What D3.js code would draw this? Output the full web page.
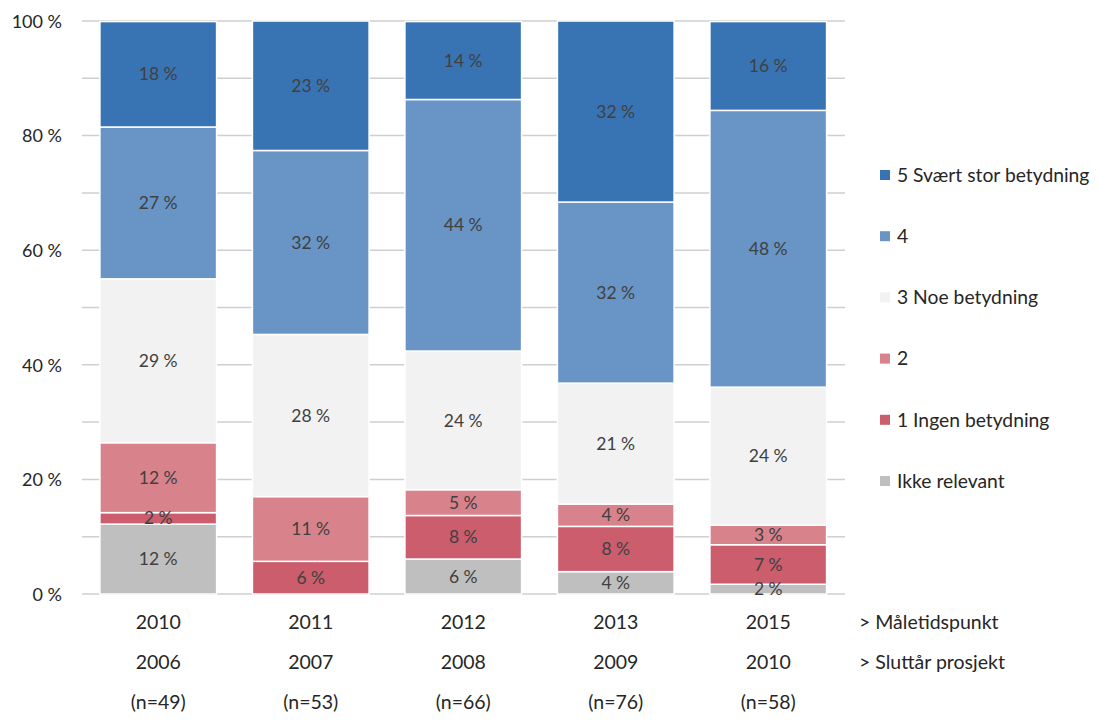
<!DOCTYPE html>
<html>
<head>
<meta charset="utf-8">
<script src="https://cdn.jsdelivr.net/npm/d3@7"></script>
<style>
  html, body { margin: 0; padding: 0; background: #fff; }
  svg { display: block; font-family: Lato, "Open Sans", sans-serif; }
</style>
</head>
<body>
<svg id="chart" width="1099" height="723"></svg>
<script>
// ---- data ----
const categories = ["2010", "2011", "2012", "2013", "2015"];
const sluttar = ["2006", "2007", "2008", "2009", "2010"];
const nLabels = ["(n=49)", "(n=53)", "(n=66)", "(n=76)", "(n=58)"];
const seriesNames = ["Ikke relevant", "1 Ingen betydning", "2", "3 Noe betydning", "4", "5 Svært stor betydning"];
const ikkeRelevant = [12.2, 0, 6.1, 3.9, 1.7];
const ingen = [2.0, 5.7, 7.6, 7.9, 6.9];
const to = [12.2, 11.3, 4.5, 3.9, 3.4];
const noe = [28.6, 28.3, 24.2, 21.1, 24.1];
const fire = [26.5, 32.1, 43.9, 31.6, 48.3];
const svaert = [18.4, 22.6, 13.6, 31.6, 15.5];
const yTicks = [0, 20, 40, 60, 80, 100];
const yGrid = [0, 10, 20, 30, 40, 50, 60, 70, 80, 90, 100];
const colors = ["#bfbfbf", "#cb5d6d", "#d8828c", "#f2f2f2", "#6894c6", "#3874b3"];

const seriesValues = [ikkeRelevant, ingen, to, noe, fire, svaert];
const rows = categories.map((c, i) => {
  const r = { cat: c };
  seriesNames.forEach((s, j) => r[s] = seriesValues[j][i]);
  return r;
});

const svg = d3.select("#chart");
const x = d3.scaleBand().domain(categories).range([82, 844.5]).paddingInner(0.235).paddingOuter(0.1175);
const y = d3.scaleLinear().domain([0, 100]).range([594, 21]);

// gridlines
svg.append("g").selectAll("line").data(yGrid).join("line")
  .attr("x1", 82).attr("x2", 845)
  .attr("y1", d => y(d)).attr("y2", d => y(d))
  .attr("stroke", "#cfcfcf").attr("stroke-width", 1.5);

// y axis labels
const yAxis = d3.axisLeft(y).tickValues(yTicks).tickSize(0).tickPadding(0).tickFormat(d => d + " %");
const ya = svg.append("g").attr("transform", "translate(62,0)").call(yAxis);
ya.select(".domain").remove();
ya.selectAll("text").attr("font-size", 18).attr("fill", "#262626").attr("font-family", "Lato, sans-serif").attr("dy", "0.35em");

// stacks
const stack = d3.stack().keys(seriesNames);
const stacked = stack(rows);

const g = svg.append("g");
stacked.forEach((layer, j) => {
  g.append("g").selectAll("rect").data(layer).join("rect")
    .attr("x", d => x(d.data.cat))
    .attr("width", x.bandwidth())
    .attr("y", d => y(d[1]))
    .attr("height", d => Math.max(0, y(d[0]) - y(d[1])))
    .attr("fill", colors[j])
    .attr("stroke", "#fff").attr("stroke-width", 1.5);
});
stacked.forEach((layer, j) => {
  g.append("g").selectAll("text").data(layer.filter(d => d[1] - d[0] > 0)).join("text")
    .attr("x", d => x(d.data.cat) + x.bandwidth() / 2)
    .attr("y", d => (y(d[0]) + y(d[1])) / 2)
    .attr("dy", "0.35em")
    .attr("text-anchor", "middle")
    .attr("font-size", 17.5)
    .attr("fill", "#404040")
    .text(d => Math.round(d[1] - d[0]) + " %");
});

// category labels
const catRows = [categories, sluttar, nLabels];
const catY = [622, 662, 702];
catRows.forEach((arr, k) => {
  svg.append("g").selectAll("text").data(arr).join("text")
    .attr("x", (d, i) => x(categories[i]) + x.bandwidth() / 2)
    .attr("y", catY[k]).attr("dy", "0.35em")
    .attr("text-anchor", "middle").attr("font-size", 19.5).attr("fill", "#262626")
    .text(d => d);
});
svg.append("text").attr("x", 859).attr("y", 622).attr("dy", "0.35em").attr("font-size", 19.5).attr("fill", "#262626").text("> Måletidspunkt");
svg.append("text").attr("x", 859).attr("y", 662).attr("dy", "0.35em").attr("font-size", 19.5).attr("fill", "#262626").text("> Sluttår prosjekt");

// legend
const legendOrder = seriesNames.slice().reverse();
const lg = svg.append("g").selectAll("g").data(legendOrder).join("g")
  .attr("transform", (d, i) => `translate(880, ${175 + i * 61.2})`);
lg.append("rect").attr("x", 0).attr("y", -5).attr("width", 10).attr("height", 10)
  .attr("fill", d => colors[seriesNames.indexOf(d)]);
lg.append("text").attr("x", 17).attr("dy", "0.35em").attr("font-size", 19.3).attr("fill", "#262626").text(d => d);
</script>
</body>
</html>
